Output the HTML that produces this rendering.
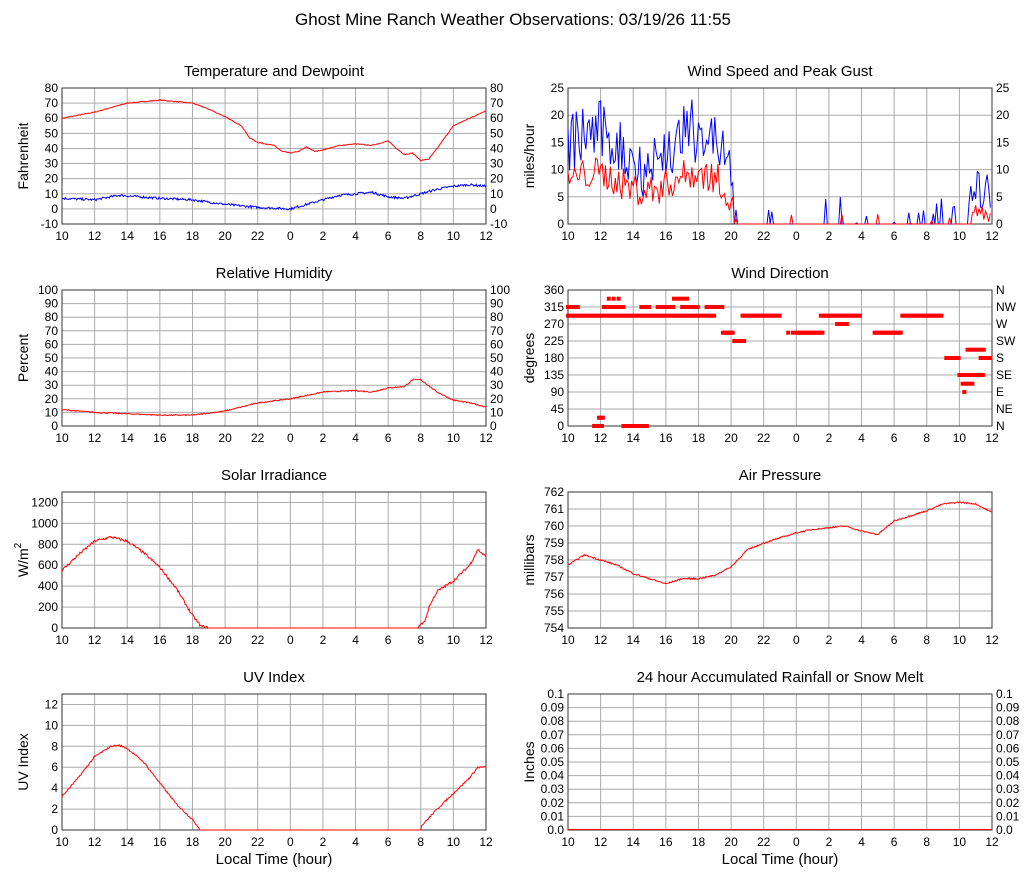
<!DOCTYPE html>
<html><head><meta charset="utf-8"><style>
body{margin:0;background:#fff;width:1027px;height:878px;overflow:hidden}
svg text{font-family:"Liberation Sans",sans-serif;fill:#000}
</style></head><body>
<svg id="s" width="1027" height="878" xmlns="http://www.w3.org/2000/svg"></svg>
<script>
var S=document.getElementById('s'),out='';
var seed=7;function rnd(){seed=(seed*16807)%2147483647;return seed/2147483647;}
function T(x,y,t,sz,anc,extra){out+='<text x="'+x+'" y="'+y+'" font-size="'+sz+'" text-anchor="'+(anc||'start')+'" '+(extra||'')+'>'+t+'</text>';}
var W=424,H=136;
function interp(k,h){for(var i=0;i<k.length-1;i++){if(h<=k[i+1][0]){var a=k[i],b=k[i+1],f=(h-a[0])/(b[0]-a[0]);return a[1]+f*(b[1]-a[1]);}}return k[k.length-1][1];}
function panel(x0,y0,title,ymin,ymax,ticks,ylab,right,rlabs,fmt){
 T(x0+212,y0-12,title,15,'middle');
 for(var i=0;i<=13;i++){var x=x0+i*W/13;out+='<line x1="'+x+'" y1="'+y0+'" x2="'+x+'" y2="'+(y0+H)+'" stroke="#aaa"/>';
  var lab=[10,12,14,16,18,20,22,0,2,4,6,8,10,12][i];T(x,y0+H+16,lab,12,'middle');}
 ticks.forEach(function(v,j){var y=y0+H-(v-ymin)/(ymax-ymin)*H;out+='<line x1="'+x0+'" y1="'+y+'" x2="'+(x0+W)+'" y2="'+y+'" stroke="#aaa"/>';
  var s=fmt?fmt(v):v;T(x0-4,y+4,s,12,'end');
  if(right)T(x0+W+4,y+4,rlabs?rlabs[j]:s,12,'start');});
 out+='<rect x="'+x0+'" y="'+y0+'" width="'+W+'" height="'+H+'" fill="none" stroke="#333"/>';
 if(ylab)out+='<text transform="translate('+(x0-34)+','+(y0+68)+') rotate(-90)" font-size="14" text-anchor="middle">'+ylab+'</text>';
}
function line(x0,y0,ymin,ymax,k,noise,col,step){var p=[];step=step||0.05;
 for(var h=0;h<=26.001;h+=step){var b=interp(k,h);var v=b;if(b>ymin+1e-6)v=b+(rnd()-0.5)*noise;if(v<ymin)v=ymin;var y=y0+H-(v-ymin)/(ymax-ymin)*H;p.push((x0+h/26*W).toFixed(1)+','+y.toFixed(1));}
 out+='<polyline points="'+p.join(' ')+'" fill="none" stroke="'+col+'" stroke-width="1"/>';}
function rng(a,b,s){var r=[];for(var v=a;v<=b+1e-9;v+=s)r.push(+v.toFixed(3));return r;}
T(513,25,'Ghost Mine Ranch Weather Observations: 03/19/26 11:55',17,'middle');
panel(62,88,'Temperature and Dewpoint',-10,80,rng(-10,80,10),'Fahrenheit',true);
line(62,88,-10,80,[[0,60],[2,64],[4,70],[6,72],[8,70],[9,66],[10,61],[11,55],[11.5,47],[12,44],[13,42],[13.5,38],[14,37],[14.5,38],[15,41],[15.5,38],[16,39],[17,42],[18,43],[19,42],[20,45],[20.5,40],[21,36],[21.5,37],[22,32],[22.5,33],[23,40],[24,55],[25,60],[26,65]],0.5,'red');
line(62,88,-10,80,[[0,7],[2,6],[3.5,9],[6,7],[8,6],[10,3],[12,1],[14,0],[15,3],[16,6],[17,9],[18,10],[19,11],[20,8],[21,7],[22,10],[23,13],[24,15],[25,16],[26,15]],1.5,'blue');
panel(62,290,'Relative Humidity',0,100,rng(0,100,10),'Percent',true);
line(62,290,0,100,[[0,12],[2,10],[4,9],[6,8],[8,8],[10,11],[12,17],[14,20],[16,25],[18,26],[19,25],[20,28],[21,29],[21.5,34],[22,34],[23,25],[24,19],[25,17],[26,14]],0.8,'red');
panel(62,492,'Solar Irradiance',0,1300,rng(0,1200,200),'',false);
out+='<text transform="translate(28,560) rotate(-90)" font-size="14" text-anchor="middle">W/m<tspan dy="-7" font-size="10">2</tspan></text>';
line(62,492,0,1300,[[0,550],[1,700],[2,830],[3,870],[4,830],[5,720],[6,580],[7,380],[8,120],[8.5,20],[9,0],[21.8,0],[22.3,80],[22.5,200],[23,350],[24,450],[25,600],[25.5,750],[26,680]],25,'red');
panel(62,694,'UV Index',0,13,rng(0,12,2),'UV Index',false);
line(62,694,0,13,[[0,3.2],[1,5],[2,7],[3,8],[3.5,8.1],[4,7.8],[5,6.5],[6,4.5],[7,2.5],[8,1],[8.5,0],[22,0],[22.05,0.4],[23,2],[24,3.5],[25,5],[25.5,6],[26,6]],0.15,'red');
T(274,864,'Local Time (hour)',15,'middle');
panel(568,88,'Wind Speed and Peak Gust',0,25,rng(0,25,5),'miles/hour',true);
var g=[],sp=[];for(var h=0;h<=26;h+=0.1){var b;if(h<9.5)b=14+3*Math.sin(h);else if(h<10.3)b=14-(h-9.5)*16;else b=0;
 var gv=b>0?b+(rnd()-0.5)*12:(rnd()<0.12?rnd()*5:0);if(h>24.6)gv=3+rnd()*7;if(gv<0)gv=0;
 var sv=b>0?b*0.55+(rnd()-0.5)*6:(rnd()<0.05?rnd()*2:0);if(h>24.8)sv=rnd()*4;if(sv<0)sv=0;
 var x=(568+h/26*W).toFixed(1);g.push(x+','+(224-gv/25*H).toFixed(1));sp.push(x+','+(224-sv/25*H).toFixed(1));}
out+='<polyline points="'+g.join(' ')+'" fill="none" stroke="blue"/><polyline points="'+sp.join(' ')+'" fill="none" stroke="red"/>';
panel(568,290,'Wind Direction',0,360,rng(0,360,45),'degrees',true,['N','NE','E','SE','S','SW','W','NW','N']);
function dots(a,b,v,d){for(var h=a;h<=b;h+=d||0.1){var x=568+h/26*W,y=426-v/360*H;out+='<rect x="'+(x-2).toFixed(1)+'" y="'+(y-2).toFixed(1)+'" width="4" height="4" fill="red"/>';}}
dots(0,9,292,0.14);dots(0,0.7,315,0.12);dots(2.2,3.5,315,0.15);dots(4.5,5,315,0.12);dots(5.5,6.5,315,0.12);dots(7,8,315,0.12);dots(8.5,9.5,315,0.12);
dots(2.5,3.3,337,0.3);dots(6.5,7.5,337,0.2);dots(1.6,2.2,0,0.12);dots(3.4,4.9,0,0.12);dots(1.9,2.2,22,0.12);
dots(9.5,10.1,247);dots(10.2,10.8,225);dots(10.7,13,292,0.12);dots(14,15.6,247);dots(13.5,14,247,0.3);dots(15.5,18,292,0.12);dots(16.5,17.2,270);
dots(18.8,20.5,247);dots(20.5,23,292,0.12);dots(23.2,24,180,0.15);dots(24,25.5,135,0.12);dots(25.3,26,180,0.2);dots(24.5,25.5,202,0.2);dots(24.2,24.8,112,0.2);dots(24.3,24.4,90);
panel(568,492,'Air Pressure',754,762,rng(754,762,1),'millibars',false);
line(568,492,754,762,[[0,757.7],[1,758.3],[2,758],[3,757.7],[4,757.2],[5,756.9],[6,756.6],[7,756.9],[8,756.9],[9,757.1],[10,757.6],[11,758.6],[12,759],[13,759.3],[14,759.6],[15,759.8],[16,759.9],[17,760],[18,759.7],[19,759.5],[20,760.3],[21,760.6],[22,760.9],[23,761.3],[24,761.4],[25,761.3],[26,760.8]],0.08,'red');
panel(568,694,'24 hour Accumulated Rainfall or Snow Melt',0,0.1,rng(0,0.1,0.01),'Inches',true,null,function(v){return v==0?'0.0':(v==0.1?'0.1':v.toFixed(2));});
out+='<line x1="568" y1="829.5" x2="992" y2="829.5" stroke="red"/>';
T(780,864,'Local Time (hour)',15,'middle');
S.innerHTML=out;
</script>
</body></html>
